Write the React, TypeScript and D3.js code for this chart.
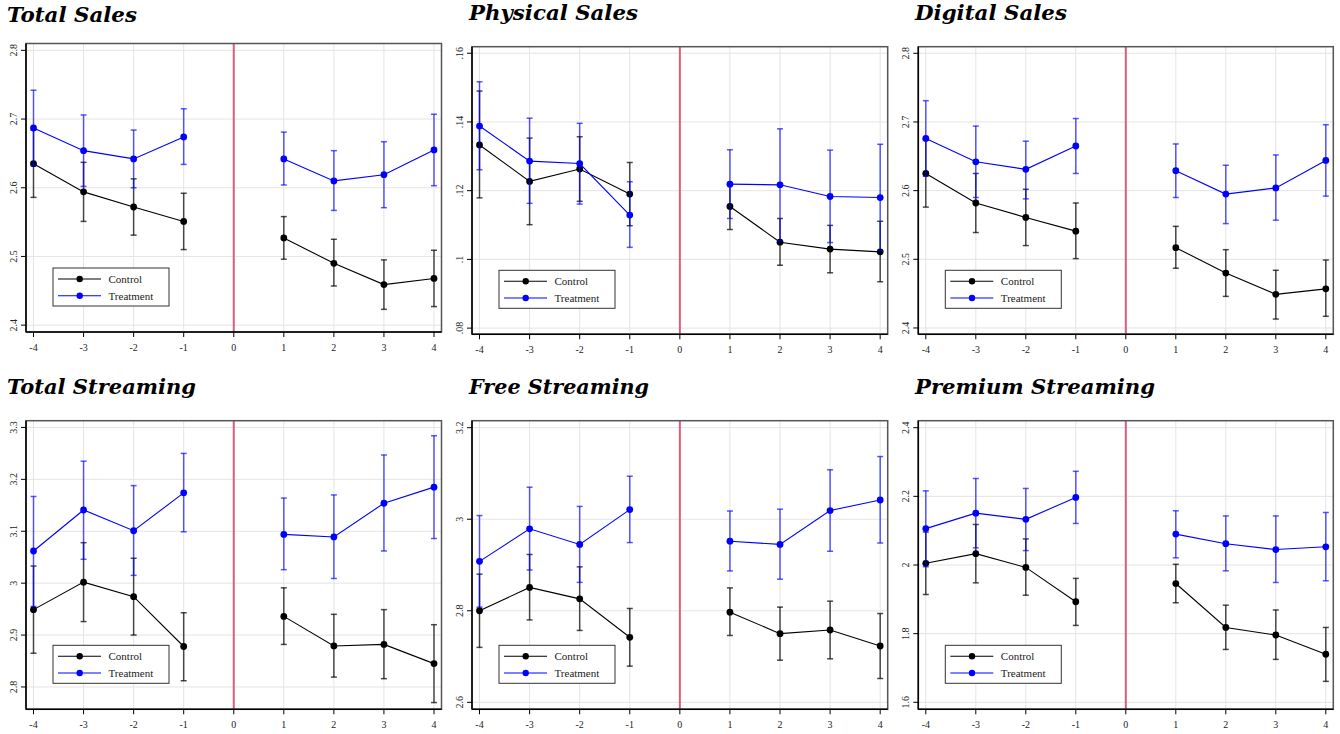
import React, { useEffect } from "react";
import * as d3 from "d3";

// ---------- data ----------
const periods = [-4, -3, -2, -1, 1, 2, 3, 4];
const xTicks = [-4, -3, -2, -1, 0, 1, 2, 3, 4];
const seriesNames = ["Control", "Treatment"];
const panelTitles = [
  "Total Sales",
  "Physical Sales",
  "Digital Sales",
  "Total Streaming",
  "Free Streaming",
  "Premium Streaming",
];

// [mean, lower CI, upper CI] for each period
const totalSalesControl = [
  [2.635, 2.586, 2.684], [2.594, 2.551, 2.637], [2.572, 2.531, 2.613], [2.551, 2.51, 2.592],
  [2.527, 2.496, 2.558], [2.49, 2.457, 2.525], [2.459, 2.423, 2.495], [2.468, 2.427, 2.509],
];
const totalSalesTreatment = [
  [2.687, 2.632, 2.742], [2.654, 2.602, 2.706], [2.642, 2.6, 2.684], [2.674, 2.634, 2.715],
  [2.642, 2.604, 2.681], [2.61, 2.567, 2.654], [2.619, 2.571, 2.667], [2.655, 2.603, 2.707],
];
const physicalSalesControl = [
  [0.1333, 0.1179, 0.149], [0.1227, 0.1101, 0.1353], [0.1263, 0.1169, 0.1357], [0.119, 0.1098, 0.1282],
  [0.1154, 0.1087, 0.1221], [0.105, 0.0983, 0.1119], [0.103, 0.0961, 0.1099], [0.1022, 0.0935, 0.1111],
];
const physicalSalesTreatment = [
  [0.1388, 0.1261, 0.1517], [0.1286, 0.1163, 0.1411], [0.1279, 0.1161, 0.1396], [0.1129, 0.1035, 0.1226],
  [0.1219, 0.1119, 0.1319], [0.1217, 0.1054, 0.138], [0.1183, 0.1049, 0.1318], [0.118, 0.1025, 0.1335],
];
const digitalSalesControl = [
  [2.625, 2.576, 2.674], [2.582, 2.539, 2.625], [2.561, 2.52, 2.602], [2.541, 2.501, 2.582],
  [2.517, 2.487, 2.548], [2.48, 2.446, 2.514], [2.449, 2.413, 2.484], [2.457, 2.417, 2.499],
];
const digitalSalesTreatment = [
  [2.676, 2.621, 2.731], [2.642, 2.59, 2.694], [2.631, 2.588, 2.672], [2.665, 2.625, 2.705],
  [2.629, 2.59, 2.668], [2.595, 2.552, 2.637], [2.604, 2.557, 2.652], [2.644, 2.592, 2.696],
];
const totalStreamingControl = [
  [2.949, 2.865, 3.033], [3.002, 2.926, 3.078], [2.974, 2.9, 3.048], [2.878, 2.812, 2.943],
  [2.936, 2.882, 2.991], [2.879, 2.819, 2.94], [2.882, 2.816, 2.949], [2.845, 2.77, 2.92],
];
const totalStreamingTreatment = [
  [3.062, 2.955, 3.167], [3.141, 3.046, 3.235], [3.101, 3.015, 3.188], [3.174, 3.099, 3.25],
  [3.094, 3.026, 3.164], [3.089, 3.009, 3.17], [3.154, 3.062, 3.247], [3.185, 3.086, 3.284],
];
const freeStreamingControl = [
  [2.8, 2.72, 2.88], [2.851, 2.78, 2.923], [2.826, 2.757, 2.896], [2.742, 2.679, 2.805],
  [2.797, 2.746, 2.85], [2.75, 2.692, 2.808], [2.758, 2.695, 2.821], [2.723, 2.652, 2.794],
];
const freeStreamingTreatment = [
  [2.908, 2.808, 3.008], [2.979, 2.889, 3.07], [2.945, 2.862, 3.028], [3.021, 2.949, 3.094],
  [2.952, 2.887, 3.018], [2.945, 2.869, 3.022], [3.019, 2.93, 3.108], [3.042, 2.948, 3.137],
];
const premiumStreamingControl = [
  [2.005, 1.914, 2.096], [2.033, 1.948, 2.118], [1.993, 1.912, 2.076], [1.893, 1.824, 1.961],
  [1.946, 1.89, 2.002], [1.818, 1.754, 1.883], [1.796, 1.725, 1.869], [1.74, 1.661, 1.818],
];
const premiumStreamingTreatment = [
  [2.106, 1.995, 2.216], [2.151, 2.05, 2.252], [2.133, 2.042, 2.223], [2.197, 2.121, 2.273],
  [2.09, 2.021, 2.158], [2.062, 1.983, 2.143], [2.045, 1.949, 2.143], [2.053, 1.954, 2.153],
];

const totalSalesTicks = [2.4, 2.5, 2.6, 2.7, 2.8];
const totalSalesTickLabels = ["2.4", "2.5", "2.6", "2.7", "2.8"];
const physicalSalesTicks = [0.08, 0.1, 0.12, 0.14, 0.16];
const physicalSalesTickLabels = [".08", ".1", ".12", ".14", ".16"];
const digitalSalesTicks = [2.4, 2.5, 2.6, 2.7, 2.8];
const digitalSalesTickLabels = ["2.4", "2.5", "2.6", "2.7", "2.8"];
const totalStreamingTicks = [2.8, 2.9, 3.0, 3.1, 3.2, 3.3];
const totalStreamingTickLabels = ["2.8", "2.9", "3", "3.1", "3.2", "3.3"];
const freeStreamingTicks = [2.6, 2.8, 3.0, 3.2];
const freeStreamingTickLabels = ["2.6", "2.8", "3", "3.2"];
const premiumStreamingTicks = [1.6, 1.8, 2.0, 2.2, 2.4];
const premiumStreamingTickLabels = ["1.6", "1.8", "2", "2.2", "2.4"];

// ---------- layout ----------
const W = 1340;
const H = 734;
const panels = [
  { title: panelTitles[0], ctrl: totalSalesControl, trt: totalSalesTreatment, ticks: totalSalesTicks, labels: totalSalesTickLabels,
    yDom: [2.39, 2.81], box: [26, 441.5, 43.5, 332], titlePos: [7, 21.5, 130] },
  { title: panelTitles[1], ctrl: physicalSalesControl, trt: physicalSalesTreatment, ticks: physicalSalesTicks, labels: physicalSalesTickLabels,
    yDom: [0.0782, 0.1619], box: [472, 887.7, 46.7, 334.3], titlePos: [469, 19.5, 169] },
  { title: panelTitles[2], ctrl: digitalSalesControl, trt: digitalSalesTreatment, ticks: digitalSalesTicks, labels: digitalSalesTickLabels,
    yDom: [2.3908, 2.8096], box: [918.3, 1333.3, 46.7, 334.3], titlePos: [915, 19.5, 152] },
  { title: panelTitles[3], ctrl: totalStreamingControl, trt: totalStreamingTreatment, ticks: totalStreamingTicks, labels: totalStreamingTickLabels,
    yDom: [2.757, 3.313], box: [26, 441.5, 420.7, 709.3], titlePos: [7, 394, 189] },
  { title: panelTitles[4], ctrl: freeStreamingControl, trt: freeStreamingTreatment, ticks: freeStreamingTicks, labels: freeStreamingTickLabels,
    yDom: [2.5847, 3.2153], box: [472, 887.7, 420.7, 709.3], titlePos: [469, 394, 180] },
  { title: panelTitles[5], ctrl: premiumStreamingControl, trt: premiumStreamingTreatment, ticks: premiumStreamingTicks, labels: premiumStreamingTickLabels,
    yDom: [1.5796, 2.4204], box: [918.3, 1333.3, 420.7, 709.3], titlePos: [915, 394, 240] },
];

const serif = "'Liberation Serif', 'DejaVu Serif', serif";
const ctrlColor = "#000000";
const trtColor = "#0000ff";

function Series({ data, color, x, y, ciOpacity }: any) {
  const pts = periods.map((p, i) => ({ p, m: data[i][0], lo: data[i][1], hi: data[i][2] }));
  const line = d3.line<any>().x((d) => x(d.p)).y((d) => y(d.m));
  const pre = pts.filter((d) => d.p < 0);
  const post = pts.filter((d) => d.p > 0);
  return (
    <g>
      {pts.map((d, i) => (
        <g key={i} stroke={color} strokeOpacity={ciOpacity} strokeWidth={1.5} fill="none">
          <line x1={x(d.p)} x2={x(d.p)} y1={y(d.lo)} y2={y(d.hi)} />
          <line x1={x(d.p) - 3} x2={x(d.p) + 3} y1={y(d.lo)} y2={y(d.lo)} />
          <line x1={x(d.p) - 3} x2={x(d.p) + 3} y1={y(d.hi)} y2={y(d.hi)} />
        </g>
      ))}
      <path d={line(pre) || ""} stroke={color} strokeWidth={1.1} fill="none" />
      <path d={line(post) || ""} stroke={color} strokeWidth={1.1} fill="none" />
      {pts.map((d, i) => (
        <circle key={i} cx={x(d.p)} cy={y(d.m)} r={3.4} fill={color} />
      ))}
    </g>
  );
}

function Panel({ cfg }: any) {
  const [left, right, top, bottom] = cfg.box;
  const x = d3.scaleLinear().domain([-4.15, 4.15]).range([left, right]);
  const y = d3.scaleLinear().domain(cfg.yDom).range([bottom, top]);
  const lx = left + 27;
  const ly = bottom - 64;
  return (
    <g>
      <text
        x={cfg.titlePos[0]}
        y={cfg.titlePos[1]}
        fontFamily="'DejaVu Serif', serif"
        fontWeight="bold"
        fontStyle="italic"
        fontSize={20}
        textLength={cfg.titlePos[2]}
        lengthAdjust="spacingAndGlyphs"
        fill="#000"
      >
        {cfg.title}
      </text>
      <rect x={left} y={top} width={right - left} height={bottom - top} fill="#fff" />
      {/* grid */}
      {xTicks.map((t) => (
        <line key={"gx" + t} x1={x(t)} x2={x(t)} y1={top} y2={bottom} stroke="#e4e4e4" strokeWidth={1} />
      ))}
      {cfg.ticks.map((t: number) => (
        <line key={"gy" + t} x1={left} x2={right} y1={y(t)} y2={y(t)} stroke="#e4e4e4" strokeWidth={1} />
      ))}
      {/* event line */}
      <line x1={x(0)} x2={x(0)} y1={top} y2={bottom} stroke="#d4607f" strokeWidth={2} />
      <Series data={cfg.ctrl} color={ctrlColor} x={x} y={y} ciOpacity={0.7} />
      <Series data={cfg.trt} color={trtColor} x={x} y={y} ciOpacity={0.65} />
      {/* frame */}
      <rect x={left} y={top} width={right - left} height={bottom - top} fill="none" stroke="#555" strokeWidth={1.5} />
      <line x1={left} x2={left} y1={top} y2={bottom} stroke="#000" strokeWidth={1.5} />
      <line x1={left} x2={right} y1={bottom} y2={bottom} stroke="#000" strokeWidth={1.5} />
      {/* y axis */}
      {cfg.ticks.map((t: number, i: number) => (
        <g key={"yt" + t}>
          <line x1={left - 5} x2={left} y1={y(t)} y2={y(t)} stroke="#000" strokeWidth={1} />
          <text
            transform={`translate(${left - 12.5},${y(t)}) rotate(-90)`}
            textAnchor="middle"
            dominantBaseline="central"
            fontFamily={serif}
            fontSize={10}
            fill="#222"
          >
            {cfg.labels[i]}
          </text>
        </g>
      ))}
      {/* x axis */}
      {xTicks.map((t) => (
        <g key={"xt" + t}>
          <line x1={x(t)} x2={x(t)} y1={bottom} y2={bottom + 5} stroke="#000" strokeWidth={1} />
          <text
            x={x(t)}
            y={bottom + 15}
            textAnchor="middle"
            dominantBaseline="central"
            fontFamily={serif}
            fontSize={10}
            fill="#222"
          >
            {t < 0 ? "-" + Math.abs(t) : String(t)}
          </text>
        </g>
      ))}
      {/* legend */}
      <rect x={lx} y={ly} width={116} height={38} fill="#fff" stroke="#333" strokeWidth={1} />
      {seriesNames.map((name, i) => {
        const yy = ly + 11 + i * 16.7;
        const c = i === 0 ? ctrlColor : trtColor;
        return (
          <g key={name}>
            <line x1={lx + 5} x2={lx + 48} y1={yy} y2={yy} stroke={c} strokeWidth={1.1} />
            <circle cx={lx + 26.7} cy={yy} r={3.2} fill={c} />
            <text x={lx + 55.5} y={yy} dominantBaseline="central" fontFamily={serif} fontSize={11} fill="#222">
              {name}
            </text>
          </g>
        );
      })}
    </g>
  );
}

export default function App() {
  useEffect(() => {
    document.body.style.margin = "0";
  }, []);
  return (
    <svg width={W} height={H} style={{ display: "block", position: "absolute", left: 0, top: 0 }}>
      <rect x={0} y={0} width={W} height={H} fill="#fff" />
      {panels.map((p, i) => (
        <Panel key={i} cfg={p} />
      ))}
    </svg>
  );
}
